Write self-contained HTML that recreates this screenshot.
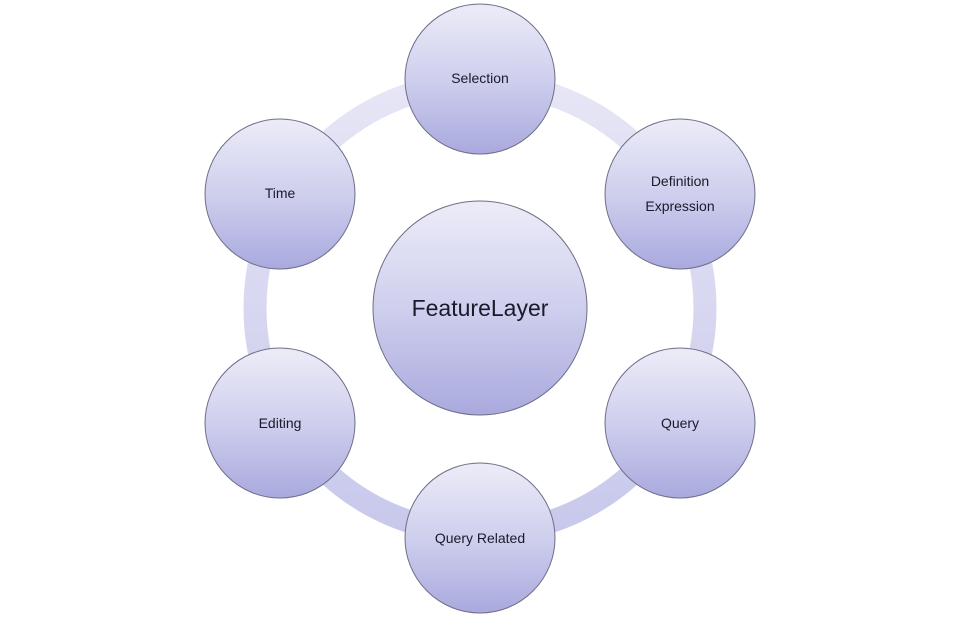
<!DOCTYPE html>
<html><head><style>
html,body{margin:0;padding:0;background:#fff;width:960px;height:622px;overflow:hidden}
svg text{font-family:"Liberation Sans",sans-serif;fill:#1a1a2a}
</style></head><body>
<svg width="960" height="622" viewBox="0 0 960 622">
<defs>
<linearGradient id="g" x1="0" y1="0" x2="0" y2="1">
<stop offset="0" stop-color="#ececf8"/>
<stop offset="0.5" stop-color="#cfcfee"/>
<stop offset="1" stop-color="#a9a9de"/>
</linearGradient>
<linearGradient id="r" x1="0" y1="0" x2="0" y2="1">
<stop offset="0" stop-color="#e6e6f6"/>
<stop offset="1" stop-color="#c8c8ec"/>
</linearGradient>
</defs>
<circle cx="480" cy="308" r="225" fill="none" stroke="url(#r)" stroke-width="23"/>
<g stroke="#6e6e88" stroke-width="1" fill="url(#g)">
<circle cx="480" cy="308" r="107"/>
<circle cx="480" cy="79" r="75"/>
<circle cx="680" cy="194" r="75"/>
<circle cx="680" cy="423" r="75"/>
<circle cx="480" cy="538" r="75"/>
<circle cx="280" cy="423" r="75"/>
<circle cx="280" cy="194" r="75"/>
</g>
<g font-size="14" text-anchor="middle">
<text x="480" y="83">Selection</text>
<text x="680" y="186">Definition</text>
<text x="680" y="211">Expression</text>
<text x="680" y="428">Query</text>
<text x="480" y="543">Query Related</text>
<text x="280" y="428">Editing</text>
<text x="280" y="198">Time</text>
<text x="480" y="316" font-size="23">FeatureLayer</text>
</g>
</svg>
</body></html>
